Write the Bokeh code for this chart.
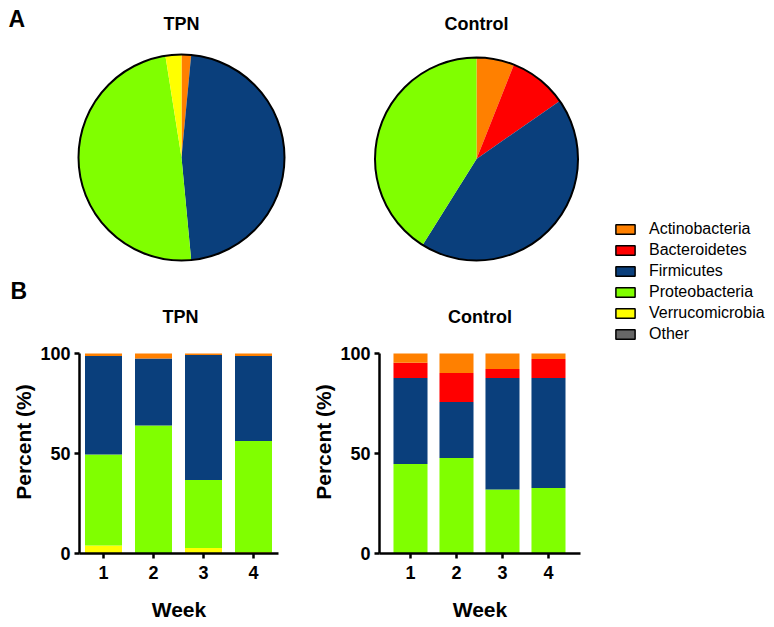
import numpy as np
from bokeh.plotting import figure
from bokeh.layouts import row, column
from bokeh.models import Range1d, FixedTicker, Label, Legend, LegendItem, ColumnDataSource
from bokeh.embed import file_html
from bokeh.resources import INLINE

FONT = "Liberation Sans"

categories = ["Actinobacteria", "Bacteroidetes", "Firmicutes",
              "Proteobacteria", "Verrucomicrobia", "Other"]
colors = ["#FF8000", "#FF0000", "#0A3F7C", "#80FF00", "#FFFF00", "#666666"]

# Panel A: pie charts (percent)
tpn_pie = [1.5, 0.0, 47.0, 49.0, 2.5, 0.0]
ctrl_pie = [6.0, 9.3, 43.6, 41.1, 0.0, 0.0]

# Panel B: stacked bars per week (percent)
weeks = [1, 2, 3, 4]
week_labels = ["1", "2", "3", "4"]
tpn_actino = [1.2, 2.5, 0.7, 1.2]
tpn_bacter = [0.0, 0.0, 0.0, 0.0]
tpn_firmic = [49.3, 33.5, 62.5, 42.5]
tpn_proteo = [45.5, 63.8, 34.0, 55.5]
tpn_verruc = [4.0, 0.2, 2.8, 0.8]
tpn_other = [0.0, 0.0, 0.0, 0.0]

ctrl_actino = [4.6, 9.7, 7.8, 2.7]
ctrl_bacter = [7.6, 14.6, 4.5, 9.6]
ctrl_firmic = [43.0, 28.0, 55.7, 55.0]
ctrl_proteo = [44.8, 47.7, 32.0, 32.7]
ctrl_verruc = [0.0, 0.0, 0.0, 0.0]
ctrl_other = [0.0, 0.0, 0.0, 0.0]

y_ticks = [0, 50, 100]


def set_borders(p, left, right, top, bottom):
    p.min_border_left = left
    p.min_border_right = right
    p.min_border_top = top
    p.min_border_bottom = bottom
    p.frame_align = False


def add_text(p, text, x, y, size, x_units="screen"):
    p.add_layout(Label(x=x, y=y, x_units=x_units, y_units="screen",
                       text=text, text_align="center" if x_units == "data" else "left",
                       text_baseline="alphabetic", text_color="black",
                       text_font=FONT, text_font_size=size, text_font_style="bold"))


def pie_fig(values, title, w, h, cx, cy, r, bar_title, bar_title_x, panel_letters=()):
    xr = Range1d(-cx / r, (w - cx) / r)
    yr = Range1d(-(h - cy) / r, cy / r)
    p = figure(frame_width=w, frame_height=h, x_range=xr, y_range=yr, title=None,
               x_axis_location=None, y_axis_location=None,
               toolbar_location=None, output_backend="svg")
    set_borders(p, 0, 0, 0, 0)
    p.grid.visible = False
    p.outline_line_color = None
    vals = np.array(values, dtype=float)
    frac = vals / vals.sum()
    cum = np.concatenate([[0.0], np.cumsum(frac)])
    keep = vals > 0
    start = (np.pi / 2 - 2 * np.pi * cum[:-1])[keep]
    end = (np.pi / 2 - 2 * np.pi * cum[1:])[keep]
    cols = [c for c, k in zip(colors, keep) if k]
    src = ColumnDataSource(dict(start=start, end=end, color=cols))
    p.wedge(x=0, y=0, radius=1, start_angle="start", end_angle="end",
            direction="clock", fill_color="color", line_color=None, source=src)
    p.circle(x=0, y=0, radius=1, fill_color=None, line_color="black", line_width=2)
    add_text(p, title, 0, h - 23, "18px", x_units="data")
    # title of the bar chart underneath (sits just above its plotting area)
    p.add_layout(Label(x=bar_title_x, y=h - 316, x_units="screen", y_units="screen",
                       text=bar_title, text_align="center", text_baseline="alphabetic",
                       text_color="black", text_font=FONT, text_font_size="18px",
                       text_font_style="bold"))
    for letter, lx, ly in panel_letters:
        add_text(p, letter, lx, h - ly, "23px")
    return p


def bar_fig(fw, left, right, xstart, xend, stacks):
    p = figure(frame_width=fw, frame_height=223, x_range=Range1d(xstart, xend),
               y_range=Range1d(0, 111.5),
               title=None, toolbar_location=None, output_backend="svg")
    set_borders(p, left, right, 0, 72)
    p.grid.visible = False
    p.outline_line_color = None
    # stacking order bottom to top: Other, Verruco, Proteo, Firmic, Bacter, Actino
    order = [5, 4, 3, 2, 1, 0]
    data = dict(week=weeks)
    names = []
    for i in order:
        nm = "s%d" % i
        data[nm] = stacks[i]
        names.append(nm)
    src = ColumnDataSource(data)
    p.vbar_stack(names, x="week", width=0.74, source=src,
                 fill_color=[colors[i] for i in order], line_color=None)
    p.xaxis.ticker = FixedTicker(ticks=weeks)
    p.xaxis.major_label_overrides = {wk: lb for wk, lb in zip(weeks, week_labels)}
    p.yaxis.ticker = FixedTicker(ticks=y_ticks)
    p.yaxis.bounds = (0, 100)
    p.xaxis.axis_label = "Week"
    p.yaxis.axis_label = "Percent (%)"
    for ax in (p.xaxis[0], p.yaxis[0]):
        ax.axis_line_width = 2.5
        ax.major_tick_line_width = 2.5
        ax.major_tick_in = 0
        ax.major_tick_out = 5
        ax.minor_tick_line_color = None
        ax.major_label_text_font = FONT
        ax.major_label_text_font_size = "18px"
        ax.major_label_text_font_style = "bold"
        ax.major_label_text_color = "black"
        ax.axis_label_text_font = FONT
        ax.axis_label_text_font_size = "21px"
        ax.axis_label_text_font_style = "bold"
        ax.axis_label_text_color = "black"
    p.xaxis.major_label_standoff = 7
    p.xaxis.axis_label_standoff = 16
    p.yaxis.major_label_standoff = 4
    p.yaxis.axis_label_standoff = 2
    return p


ROW1_H = 330

pie_tpn = pie_fig(tpn_pie, "TPN", 300, ROW1_H, 181, 157, 103, "TPN", 180,
                  panel_letters=[("A", 8, 18), ("B", 10, 290)])
pie_ctrl = pie_fig(ctrl_pie, "Control", 300, ROW1_H, 176, 158.5, 101.5, "Control", 179.5)

tpn_stacks = [tpn_actino, tpn_bacter, tpn_firmic, tpn_proteo, tpn_verruc, tpn_other]
ctrl_stacks = [ctrl_actino, ctrl_bacter, ctrl_firmic, ctrl_proteo, ctrl_verruc, ctrl_other]

bar_tpn = bar_fig(199, 79, 22, 0.52, 4.5, tpn_stacks)
bar_ctrl = bar_fig(201, 79, 20, 0.326, 4.696, ctrl_stacks)

# legend figure
LEG_H = 625
leg = figure(frame_width=170, frame_height=LEG_H, x_range=Range1d(0, 1), y_range=Range1d(0, 1),
             title=None, x_axis_location=None, y_axis_location=None,
             toolbar_location=None, output_backend="svg")
set_borders(leg, 0, 0, 0, 0)
leg.grid.visible = False
leg.outline_line_color = None
items = []
for name, c in zip(categories, colors):
    r = leg.quad(left=[5], right=[6], bottom=[5], top=[6], fill_color=c,
                 line_color="black", line_width=1.5)
    items.append(LegendItem(label=name, renderers=[r]))
legend = Legend(items=items, location=(13, LEG_H - 344), padding=0, margin=0,
                border_line_color=None, background_fill_alpha=0,
                glyph_width=24, glyph_height=12, label_height=21, spacing=0,
                label_standoff=12, label_text_font=FONT, label_text_font_size="16px",
                label_text_color="black")
leg.add_layout(legend, "center")

layout = row(column(pie_tpn, bar_tpn), column(pie_ctrl, bar_ctrl), leg)

open("out.html", "w").write(file_html(layout, INLINE))
